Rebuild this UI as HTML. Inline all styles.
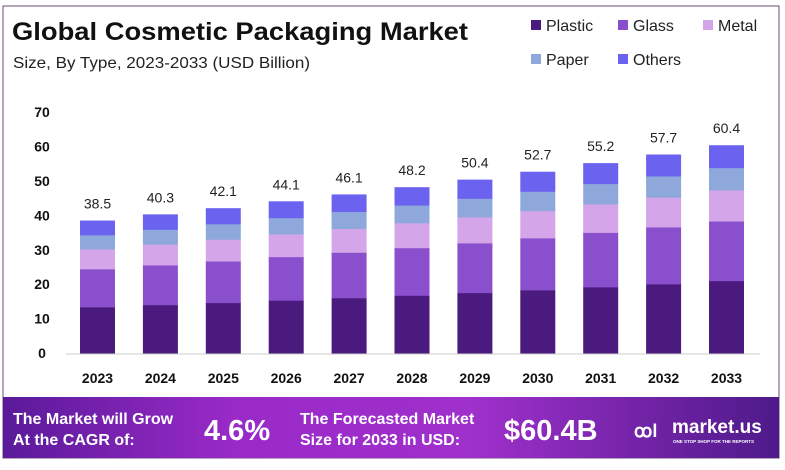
<!DOCTYPE html>
<html><head><meta charset="utf-8"><style>
body{margin:0;background:#fff;width:785px;height:465px;overflow:hidden;font-family:"Liberation Sans",sans-serif}
</style></head><body>
<svg id="s" width="785" height="465" xmlns="http://www.w3.org/2000/svg" font-family="Liberation Sans, sans-serif">
<defs>
<linearGradient id="bg" x1="0" x2="1" y1="0" y2="0">
<stop offset="0" stop-color="#5a1a9a"/><stop offset="0.3" stop-color="#9a2ac8"/><stop offset="0.6" stop-color="#a030cc"/><stop offset="1" stop-color="#4e1a8a"/>
</linearGradient>
</defs>
<rect x="3" y="6" width="776" height="452" fill="#fff" stroke="#6a4a7a" stroke-width="1"/>
<text x="12" y="40" font-size="25" font-weight="bold" fill="#111" textLength="456" lengthAdjust="spacingAndGlyphs">Global Cosmetic Packaging Market</text>
<text x="13" y="68" font-size="16" fill="#222" textLength="297" lengthAdjust="spacingAndGlyphs">Size, By Type, 2023-2033 (USD Billion)</text>
<g font-size="16" fill="#222">
<rect x="531" y="20" width="10" height="10" fill="#4a1a7e"/><text x="546" y="31">Plastic</text>
<rect x="618" y="20" width="10" height="10" fill="#8a4fcc"/><text x="633" y="31">Glass</text>
<rect x="703" y="20" width="10" height="10" fill="#d4a5e8"/><text x="718" y="31">Metal</text>
<rect x="531" y="54" width="10" height="10" fill="#8fa8dc"/><text x="546" y="65">Paper</text>
<rect x="618" y="54" width="10" height="10" fill="#6b63f0"/><text x="633" y="65">Others</text>
</g>
<g id="ax" font-size="14" font-weight="bold" fill="#111" text-anchor="middle"></g>
<line x1="66" y1="354" x2="760" y2="354" stroke="#ccc"/>
<g id="bars"></g>
<rect x="3" y="397" width="776" height="61" fill="url(#bg)"/>
<g fill="#fff" font-weight="bold">
<text x="13" y="424" font-size="16">The Market will Grow</text>
<text x="13" y="445" font-size="16">At the CAGR of:</text>
<text x="204" y="440" font-size="29">4.6%</text>
<text x="300" y="424" font-size="16">The Forecasted Market</text>
<text x="300" y="445" font-size="16">Size for 2033 in USD:</text>
<text x="504" y="440" font-size="29">$60.4B</text>
<text x="634" y="437" font-size="18">ꝏl</text>
<text x="672" y="433" font-size="19">market.us</text>
<text x="673" y="443" font-size="4.5">ONE STOP SHOP FOR THE REPORTS</text>
</g>
</svg>
<script>
var ns="http://www.w3.org/2000/svg",ax=document.getElementById('ax'),bars=document.getElementById('bars');
function el(t,a,p,txt){var e=document.createElementNS(ns,t);for(var k in a)e.setAttribute(k,a[k]);if(txt!=null)e.textContent=txt;p.appendChild(e);return e;}
var y0=353,sc=3.44;
for(var i=0;i<=7;i++){el('text',{x:42,y:y0-i*10*sc+5},ax,String(i*10));}
var vals=[38.5,40.3,42.1,44.1,46.1,48.2,50.4,52.7,55.2,57.7,60.4];
var fr=[0.348,0.287,0.15,0.107,0.108],col=['#4a1a7e','#8a4fcc','#d4a5e8','#8fa8dc','#6b63f0'];
vals.forEach(function(v,i){
 var x=80+i*62.9,cum=0;
 fr.forEach(function(f,j){var h=v*f*sc;el('rect',{x:x,y:y0-(cum+h),width:35,height:h+0.5,fill:col[j]},bars);cum+=h;});
 el('text',{x:x+17.5,y:y0-v*sc-12,'font-size':14,fill:'#222','text-anchor':'middle'},bars,v.toFixed(1));
 el('text',{x:x+17.5,y:383,'font-size':14,'font-weight':'bold',fill:'#111','text-anchor':'middle'},bars,String(2023+i));
});
</script>
</body></html>
